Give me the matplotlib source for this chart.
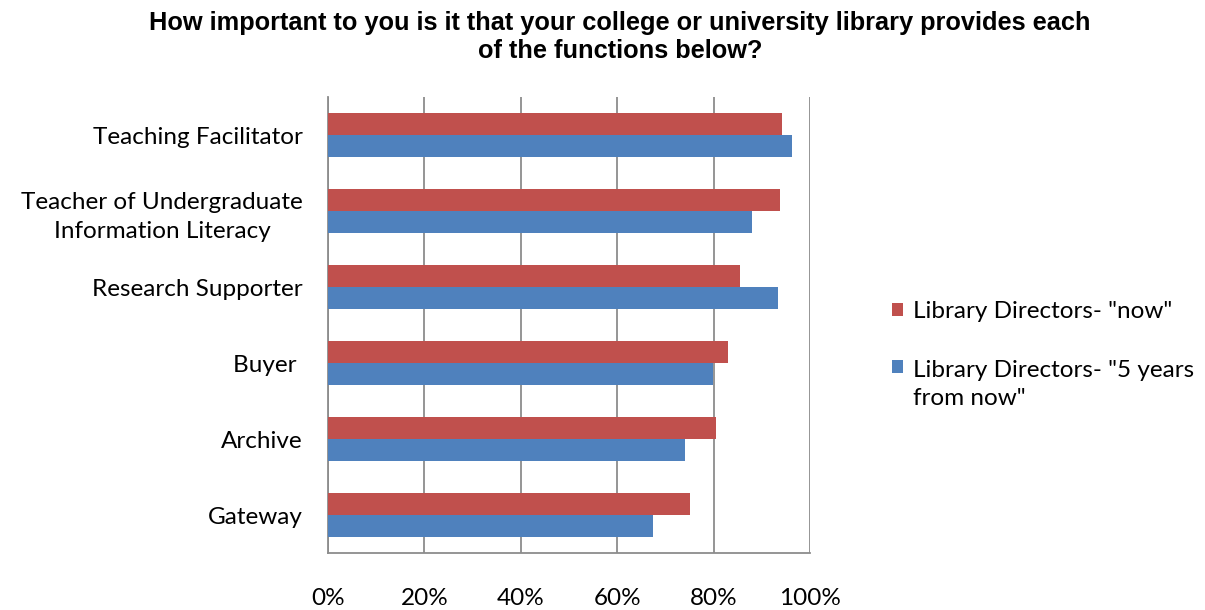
import numpy as np
import matplotlib
matplotlib.use("Agg")
import matplotlib.pyplot as plt
from matplotlib.ticker import FuncFormatter

# data (percent)
funciones = ["Teaching Facilitator", "Teacher of Undergraduate\nInformation Literacy",
             "Research Supporter", "Buyer ", "Archive", "Gateway"]
ahora = [94.2, 93.8, 85.5, 82.9, 80.4, 75.0]
cinco_anios = [96.3, 88.0, 93.4, 79.9, 74.1, 67.5]
nombres = ['Library Directors- "now"', 'Library Directors- "5 years\nfrom now"']
ticks = [0, 20, 40, 60, 80, 100]

rojo = "#C0504D"
azul = "#4F81BD"
gris = "#8C8C8C"

plt.rcParams["font.family"] = ["Lato", "DejaVu Sans"]
tam = 17.5

fig = plt.figure(figsize=(12.05, 6.1), dpi=100)
ax = fig.add_axes([328 / 1205, 1 - 553 / 610, 482 / 1205, 456 / 610])

y = np.arange(len(funciones))[::-1]
alto = 0.29
ax.barh(y + alto / 2, ahora, height=alto, color=rojo, label=nombres[0], zorder=3)
ax.barh(y - alto / 2, cinco_anios, height=alto, color=azul, label=nombres[1], zorder=3)

ax.set_xlim(0, 100)
ax.set_ylim(-0.5, len(funciones) - 0.5)
ax.set_xticks(ticks)
ax.xaxis.set_major_formatter(FuncFormatter(lambda v, p: "%d%%" % v))
ax.set_yticks(y)
ax.set_yticklabels(funciones, multialignment="center", linespacing=1.45)
ax.tick_params(axis="x", length=0, pad=25, labelsize=tam)
ax.tick_params(axis="y", length=0, pad=18, labelsize=tam)
ax.grid(axis="x", color=gris, linewidth=1.3, zorder=0)

for lado in ["top", "right"]:
    ax.spines[lado].set_visible(False)
for lado in ["left", "bottom"]:
    ax.spines[lado].set_color(gris)
    ax.spines[lado].set_linewidth(1.3)

fig.suptitle("How important to you is it that your college or university library provides each\nof the functions below?",
             family="Liberation Sans", fontweight="bold", fontsize=18.3, x=620 / 1205, y=0.982,
             linespacing=1.2)

leg = fig.legend(loc="upper left", bbox_to_anchor=(870 / 1205, 1 - 279 / 610), frameon=False,
                 fontsize=tam, handlelength=0.45, handleheight=0.45, handletextpad=0.4,
                 labelspacing=1.55)
for t in leg.get_texts():
    t.set_linespacing(1.45)
# put the blue square next to the first line of its label
h = leg.legend_handles[1]
h.set_y(h.get_y() + 0.72 * tam * 1.45 / 2 * 1.38)

fig.savefig("out.png", dpi=100)
